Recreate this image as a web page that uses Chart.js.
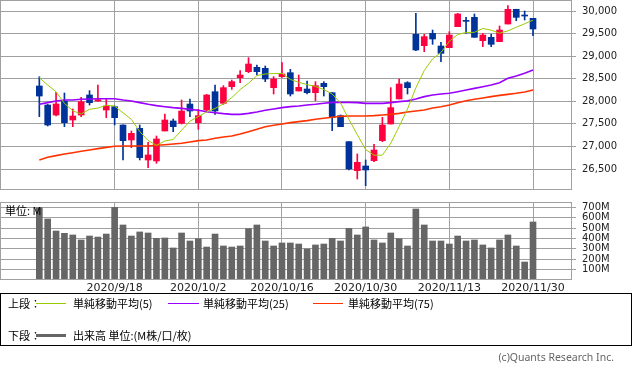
<!DOCTYPE html>
<html>
<head>
<meta charset="utf-8">
<script src="https://cdn.jsdelivr.net/npm/chart.js@4.4.1/dist/chart.umd.min.js"></script>
<style>
  body { margin: 0; width: 633px; height: 374px; background: #fff; position: relative; overflow: hidden; }
  #price { position: absolute; left: 0; top: 0; }
  #volume { position: absolute; left: 0; top: 195px; }
  .jp { font-family: "Noto Sans CJK JP", sans-serif; font-size: 11px; color: #000; position: absolute; line-height: 14px; white-space: nowrap; }
  .legend { position: absolute; left: 0; top: 293px; width: 630px; height: 51px; border: 1px solid #000; }
  .ln { position: absolute; height: 1px; }
  .copy { position: absolute; right: 19px; top: 350px; font-family: "Noto Sans", sans-serif; font-size: 10.5px; color: #666; }
</style>
</head>
<body>
<canvas id="price" width="633" height="191"></canvas>
<canvas id="volume" width="633" height="105"></canvas>
<div class="jp" style="left:5px; top:203px;">単位: M</div>

<div class="legend">
  <span class="jp" style="left:7px; top:2px;">上段：</span>
  <span class="ln" style="left:35px; top:9px; width:30px; background:#99cc00;"></span>
  <span class="jp" style="left:72px; top:2px;">単純移動平均(5)</span>
  <span class="ln" style="left:167px; top:9px; width:31px; background:#9900ff;"></span>
  <span class="jp" style="left:202px; top:2px;">単純移動平均(25)</span>
  <span class="ln" style="left:312px; top:9px; width:30px; background:#ff3300;"></span>
  <span class="jp" style="left:347px; top:2px;">単純移動平均(75)</span>

  <span class="jp" style="left:7px; top:34px;">下段：</span>
  <span class="ln" style="left:35px; top:40px; width:30px; height:3px; background:#666;"></span>
  <span class="jp" style="left:72px; top:34px;">出来高 単位:(M株/口/枚)</span>
</div>
<div class="copy">(c)Quants Research Inc.</div>

<script>
/* Data */
const dates = ['2020/9/4', '2020/9/8', '2020/9/9', '2020/9/10', '2020/9/11', '2020/9/14', '2020/9/15', '2020/9/16', '2020/9/17', '2020/9/18',
  '2020/9/21', '2020/9/22', '2020/9/23', '2020/9/24', '2020/9/25', '2020/9/28', '2020/9/29', '2020/9/30', '2020/10/1', '2020/10/2',
  '2020/10/5', '2020/10/6', '2020/10/7', '2020/10/8', '2020/10/9', '2020/10/12', '2020/10/13', '2020/10/14', '2020/10/15', '2020/10/16',
  '2020/10/19', '2020/10/20', '2020/10/21', '2020/10/22', '2020/10/23', '2020/10/26', '2020/10/27', '2020/10/28', '2020/10/29', '2020/10/30',
  '2020/11/2', '2020/11/3', '2020/11/4', '2020/11/5', '2020/11/6', '2020/11/9', '2020/11/10', '2020/11/11', '2020/11/12', '2020/11/13',
  '2020/11/16', '2020/11/17', '2020/11/18', '2020/11/19', '2020/11/20', '2020/11/23', '2020/11/24', '2020/11/25', '2020/11/27', '2020/11/30'];

const open = [28339, 27918, 27696, 28007, 27586, 27696, 28140, 28007, 27807, 27881,
  27475, 27143, 27401, 26700, 26678, 27342, 27564, 27512, 27940, 27527,
  27807, 28213, 27955, 28324, 28523, 28656, 28752, 28730, 28302, 28546,
  28634, 28228, 28272, 28191, 28398, 28191, 27682, 27106, 26464, 26567,
  26685, 27128, 27497, 28051, 28413, 29483, 29232, 29505, 29225, 29188,
  29653, 29793, 29860, 29343, 29417, 29321, 29712, 30037, 29904, 29838];
const high = [28545, 27930, 28199, 28184, 27830, 28088, 28236, 28361, 28051, 27896,
  27480, 27342, 27475, 27091, 27231, 27719, 27608, 28029, 28051, 27822,
  28154, 28361, 28346, 28472, 28679, 28966, 28804, 28782, 28546, 28856,
  28708, 28583, 28450, 28435, 28435, 28195, 27697, 27106, 26833, 26700,
  27047, 27645, 28302, 28494, 28435, 29948, 29483, 29579, 29306, 29542,
  29948, 29860, 29934, 29505, 29483, 29668, 30118, 30040, 30000, 29840];
const low = [27660, 27453, 27675, 27438, 27438, 27660, 27918, 28000, 27638, 27475,
  26700, 26973, 26700, 26530, 26626, 27342, 27327, 27497, 27660, 27379,
  27785, 27711, 27933, 28265, 28413, 28634, 28583, 28435, 28162, 28531,
  28117, 28228, 28162, 28014, 28117, 27350, 27438, 26478, 26279, 26131,
  26663, 27106, 27497, 28051, 28162, 29121, 29099, 29262, 28878, 29188,
  29653, 29505, 29417, 29210, 29210, 29321, 29712, 29786, 29801, 29454];
const close = [28117, 27475, 27940, 27527, 27674, 27992, 27970, 28036, 27896, 27637,
  27128, 27290, 26752, 26811, 27165, 27586, 27438, 27785, 27785, 27682,
  28140, 27785, 28302, 28435, 28582, 28826, 28656, 28494, 28494, 28605,
  28162, 28309, 28191, 28346, 28324, 27645, 27438, 26501, 26648, 26478,
  26921, 27475, 27859, 28383, 28302, 29136, 29432, 29380, 29062, 29468,
  29934, 29771, 29417, 29468, 29262, 29579, 30037, 29860, 29889, 29601];

const ma5 = [28524, 28360, 28213, 27955, 27790, 27719, 27822, 27850, 27911, 27895,
  27745, 27600, 27330, 27130, 27025, 27120, 27155, 27360, 27560, 27660,
  27768, 27840, 27945, 28080, 28260, 28400, 28570, 28605, 28615, 28618,
  28485, 28420, 28370, 28330, 28260, 28162, 27960, 27600, 27260, 26930,
  26805, 26808, 27072, 27440, 27830, 28300, 28680, 28940, 29080, 29330,
  29480, 29525, 29528, 29614, 29575, 29510, 29560, 29640, 29718, 29797];
const ma25 = [27933, 27970, 28007, 28029, 28029, 28044, 28051, 28058, 28058, 28058,
  28029, 28007, 27970, 27933, 27904, 27881, 27859, 27844, 27822, 27800,
  27770, 27748, 27726, 27711, 27711, 27733, 27763, 27800, 27829, 27859,
  27881, 27896, 27918, 27933, 27955, 27977, 27977, 27977, 27970, 27955,
  27955, 27955, 27970, 27992, 28010, 28050, 28103, 28140, 28162, 28177,
  28213, 28250, 28287, 28324, 28361, 28413, 28509, 28561, 28620, 28693];
const ma75 = [26700, 26759, 26796, 26833, 26862, 26892, 26921, 26951, 26980, 27003,
  27010, 27010, 27010, 27010, 27025, 27039, 27054, 27069, 27098, 27128,
  27143, 27180, 27209, 27231, 27276, 27327, 27379, 27438, 27468, 27497,
  27527, 27549, 27571, 27601, 27623, 27645, 27667, 27675, 27675, 27675,
  27682, 27697, 27711, 27733, 27763, 27785, 27807, 27851, 27881, 27918,
  27970, 28014, 28044, 28073, 28103, 28132, 28154, 28177, 28206, 28250];

// volume in millions
const volume = [695, 587, 471, 449, 433, 385, 423, 413, 442, 699,
  529, 423, 462, 452, 401, 404, 308, 452, 375, 397,
  317, 442, 327, 317, 327, 494, 529, 375, 327, 356,
  356, 346, 298, 337, 346, 401, 375, 497, 433, 510,
  385, 356, 452, 397, 327, 683, 529, 375, 375, 346,
  423, 375, 385, 337, 308, 385, 433, 327, 173, 558];

const priceTicks = [26500, 27000, 27500, 28000, 28500, 29000, 29500, 30000];
const volumeTicks = [100, 200, 300, 400, 500, 600, 700];
const dateTicks = [9, 19, 29, 39, 49, 59]; // index into dates

/* Style */
const UP = '#ff0040';
const DOWN = '#003399';
const GRID = '#a0a0a0';
const TICK_FONT = { family: '"DejaVu Sans", sans-serif', size: 10 };
const X_MIN = -4.7, X_MAX = 63.66;

const candleColor = close.map((c, i) => c >= open[i] ? UP : DOWN);
const xy = arr => arr.map((v, i) => ({ x: i, y: v }));

// box round the plot area
const frame = {
  id: 'frame',
  afterDraw(chart) {
    const { ctx, chartArea: a } = chart;
    ctx.save();
    ctx.strokeStyle = GRID;
    ctx.lineWidth = 1;
    ctx.strokeRect(Math.round(a.left) + 0.5, Math.round(a.top) + 0.5, Math.round(a.width) - 1, Math.round(a.height) - 1);
    ctx.restore();
  }
};

function xScale(showLabels) {
  return {
    type: 'linear', min: X_MIN, max: X_MAX, offset: false,
    afterBuildTicks: s => { s.ticks = dateTicks.map(v => ({ value: v })); },
    afterFit: s => { s.height = showLabels ? 20 : 0; s.paddingLeft = 0; s.paddingRight = 0; },
    ticks: {
      display: showLabels, autoSkip: false, maxRotation: 0, padding: 2,
      font: { family: '"DejaVu Sans", sans-serif', size: 11 }, color: '#222',
      callback: v => dates[v]
    },
    grid: { color: GRID, drawTicks: false, offset: false },
    border: { display: false }
  };
}

function yScale(min, max, tickValues, fmt) {
  return {
    position: 'right', min: min, max: max,
    afterBuildTicks: s => { s.ticks = tickValues.map(v => ({ value: v })); },
    // fixed axis width and no extra room for the end labels
    afterFit: s => { s.width = 61; s.paddingTop = 0; s.paddingBottom = 0; },
    ticks: { font: TICK_FONT, color: '#222', padding: 6, autoSkip: false, callback: fmt },
    grid: { color: GRID, tickLength: 4 },
    border: { display: false }
  };
}

/* Price chart */
new Chart(document.getElementById('price'), {
  type: 'bar',
  data: {
    datasets: [
      { type: 'line', data: xy(ma5), borderColor: '#99cc00', borderWidth: 1, pointRadius: 0, order: 1 },
      { type: 'line', data: xy(ma25), borderColor: '#9900ff', borderWidth: 1.6, pointRadius: 0, order: 1 },
      { type: 'line', data: xy(ma75), borderColor: '#ff3300', borderWidth: 1.6, pointRadius: 0, order: 1 },
      { data: dates.map((d, i) => ({ x: i, y: [open[i], close[i]] })), backgroundColor: candleColor,
        barThickness: 6, minBarLength: 1, grouped: false, order: 2 },
      { data: dates.map((d, i) => ({ x: i, y: [low[i], high[i]] })), backgroundColor: candleColor,
        barThickness: 1, grouped: false, order: 3 }
    ]
  },
  options: {
    responsive: false,
    animation: false,
    events: [],
    layout: { padding: { left: 0, top: 0, right: 0, bottom: 1 } },
    plugins: { legend: { display: false }, tooltip: { enabled: false } },
    scales: {
      x: xScale(false),
      y: yScale(26035, 30244, priceTicks, v => v.toLocaleString('en-US'))
    }
  },
  plugins: [frame]
});

/* Volume chart */
new Chart(document.getElementById('volume'), {
  type: 'bar',
  data: {
    datasets: [{ data: xy(volume), backgroundColor: '#666666', barThickness: 6, grouped: false }]
  },
  options: {
    responsive: false,
    animation: false,
    events: [],
    layout: { padding: { left: 0, top: 7, right: 0, bottom: 0 } },
    plugins: { legend: { display: false }, tooltip: { enabled: false } },
    scales: {
      x: xScale(true),
      y: yScale(0, 750, volumeTicks, v => v + 'M')
    }
  },
  plugins: [frame]
});
</script>
</body>
</html>
